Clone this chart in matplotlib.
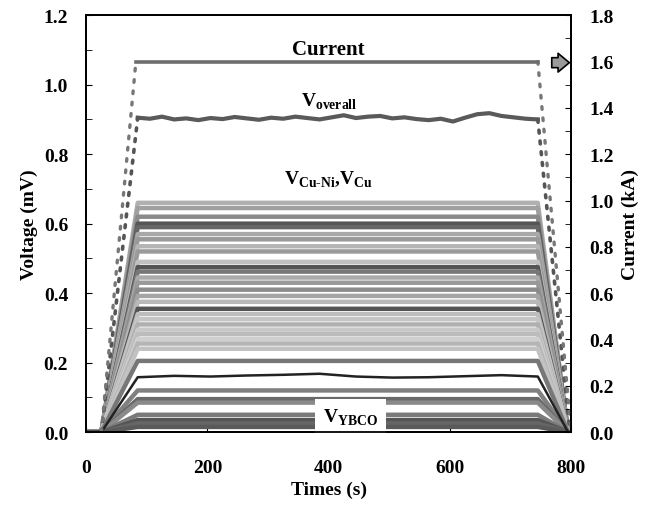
import numpy as np
import matplotlib
matplotlib.use("Agg")
import matplotlib.pyplot as plt
from matplotlib.ticker import MultipleLocator

plt.rcParams['font.family'] = ['Liberation Serif', 'DejaVu Serif']
plt.rcParams['font.weight'] = 'bold'
plt.rcParams['mathtext.fontset'] = 'custom'
plt.rcParams['mathtext.rm'] = 'Liberation Serif:bold'

# Tiempos de rampa (s): reposo, subida, meseta, bajada
t_knots = [0, 25, 85, 745, 795, 800]

# Corriente (kA)
i_times = [0, 25, 82, 745, 800]
i_vals = [0, 0, 1.6, 1.6, 0]

# V overall (mV) en la meseta
vo_times = [85, 105, 125, 145, 165, 185, 205, 225, 245, 265, 285, 305,
            325, 345, 365, 385, 405, 425, 445, 465, 485, 505, 525, 545,
            565, 585, 605, 625, 645, 665, 685, 705, 725, 745]
vo_vals = [0.905, 0.902, 0.908, 0.900, 0.903, 0.898, 0.904, 0.901, 0.907,
           0.903, 0.899, 0.905, 0.902, 0.908, 0.904, 0.900, 0.906, 0.912,
           0.904, 0.908, 0.910, 0.903, 0.906, 0.901, 0.898, 0.902, 0.894,
           0.905, 0.915, 0.918, 0.910, 0.906, 0.902, 0.900]

# Trazas V Cu-Ni / V Cu / V YBCO: nivel de meseta (mV) y tono de gris
levels = [0.660, 0.645, 0.620, 0.600, 0.590, 0.570, 0.555, 0.535, 0.520,
          0.490, 0.475, 0.462, 0.445, 0.430, 0.410, 0.392, 0.375, 0.355,
          0.340, 0.325, 0.310, 0.295, 0.282, 0.268, 0.255, 0.240, 0.205,
          0.120, 0.095, 0.085, 0.050, 0.035, 0.025, 0.015]
shades = ['#b0b0b0', '#a0a0a0', '#8a8a8a', '#555555', '#666666', '#a8a8a8',
          '#999999', '#b5b5b5', '#9a9a9a', '#c0c0c0', '#555555', '#777777',
          '#aaaaaa', '#999999', '#8c8c8c', '#a5a5a5', '#b8b8b8', '#555555',
          '#bdbdbd', '#c5c5c5', '#b0b0b0', '#c8c8c8', '#bcbcbc', '#cfcfcf',
          '#b5b5b5', '#c2c2c2', '#777777', '#808080', '#6a6a6a', '#8a8a8a',
          '#7a7a7a', '#555555', '#666666', '#5a5a5a']

# Traza negra con ondulacion (0.16 mV)
blk_times = [85, 145, 205, 265, 325, 385, 445, 505, 565, 625, 685, 745]
blk_vals = [0.158, 0.162, 0.160, 0.163, 0.165, 0.168, 0.160, 0.157, 0.158,
            0.161, 0.164, 0.160]

fig, ax = plt.subplots(figsize=(6.58, 5.06), dpi=100)
fig.subplots_adjust(left=0.131, right=0.868, bottom=0.144, top=0.968)

for lev, col in zip(levels, shades):
    ax.plot(t_knots, [0, 0, lev, lev, 0, 0], color=col, lw=3.2,
            solid_capstyle='butt', zorder=2)

ax.plot([0, 25] + blk_times + [795, 800], [0, 0] + blk_vals + [0, 0],
        color='#222222', lw=1.8, zorder=3)

# V overall: rampas punteadas y meseta
ax.plot(vo_times, vo_vals, color='#5a5a5a', lw=3, zorder=3)
ax.plot([25, vo_times[0]], [0, vo_vals[0]], color='#555555', lw=2.6,
        linestyle=(0, (0.8, 2.2)), dash_capstyle='round', zorder=3)
ax.plot([vo_times[-1], 798], [vo_vals[-1], 0], color='#555555', lw=2.6,
        linestyle=(0, (0.8, 2.2)), dash_capstyle='round', zorder=3)

# Corriente en el eje derecho
ax2 = ax.twinx()
ax2.plot(i_times[2:4], i_vals[2:4], color='#6e6e6e', lw=2.6, zorder=3)
ax2.plot(i_times[1:3], i_vals[1:3], color='#777777', lw=2.4,
         linestyle=(0, (0.8, 2.6)), dash_capstyle='round')
ax2.plot(i_times[3:5], i_vals[3:5], color='#777777', lw=2.4,
         linestyle=(0, (0.8, 2.6)), dash_capstyle='round')
ax2.plot(i_times[:2], i_vals[:2], color='#444444', lw=2)
ax2.annotate('', xy=(797, 1.595), xytext=(768, 1.595),
             arrowprops=dict(arrowstyle='simple,head_width=0.75,head_length=0.45,tail_width=0.4',
                             mutation_scale=18, fc='#9a9a9a', ec='black', lw=1.2,
                             shrinkA=0, shrinkB=0))

ax.set_xlim(0, 800)
ax.set_ylim(0, 1.2)
ax2.set_ylim(0, 1.8)

ax.xaxis.set_major_locator(MultipleLocator(200))
ax.yaxis.set_major_locator(MultipleLocator(0.2))
ax.yaxis.set_minor_locator(MultipleLocator(0.1))
ax2.yaxis.set_major_locator(MultipleLocator(0.2))
ax2.yaxis.set_minor_locator(MultipleLocator(0.1))
ax.xaxis.set_minor_locator(MultipleLocator(100))
ax.set_yticklabels([f"{v:.1f}" for v in ax.get_yticks()])
ax2.set_yticklabels([f"{v:.1f}" for v in ax2.get_yticks()])

ax.tick_params(axis='x', direction='in', length=4, pad=19, labelsize=14)
ax.tick_params(axis='x', which='minor', direction='in', length=0)
ax.tick_params(axis='y', which='both', direction='in', length=4, pad=13, labelsize=14)
ax2.tick_params(axis='y', which='both', direction='in', length=4, pad=13, labelsize=14)

for a in (ax, ax2):
    for s in a.spines.values():
        s.set_linewidth(1.3)

ax.set_xlabel("Times (s)", fontsize=14, fontweight='bold', labelpad=4)
ax.set_ylabel("Voltage (mV)", fontsize=14, fontweight='bold', labelpad=4)
ax2.set_ylabel("Current (kA)", fontsize=14, fontweight='bold', labelpad=6)

ax.text(400, 1.075, "Current", ha='center', va='bottom', fontsize=15,
        fontweight='bold', zorder=5)
ax.text(400, 0.925, r"V$_{\mathregular{overall}}$", ha='center', va='bottom',
        fontsize=14, zorder=5)
ax.text(400, 0.70, "V$_{\\mathregular{Cu\u2010Ni}}$,V$_{\\mathregular{Cu}}$",
        ha='center', va='bottom', fontsize=14, zorder=5)
ax.text(436, 0.045, r"V$_{\mathregular{YBCO}}$", ha='center', va='center',
        fontsize=14, zorder=6,
        bbox=dict(boxstyle='square,pad=0.4', fc='white', ec='none'))

fig.savefig("out.png", dpi=100)
